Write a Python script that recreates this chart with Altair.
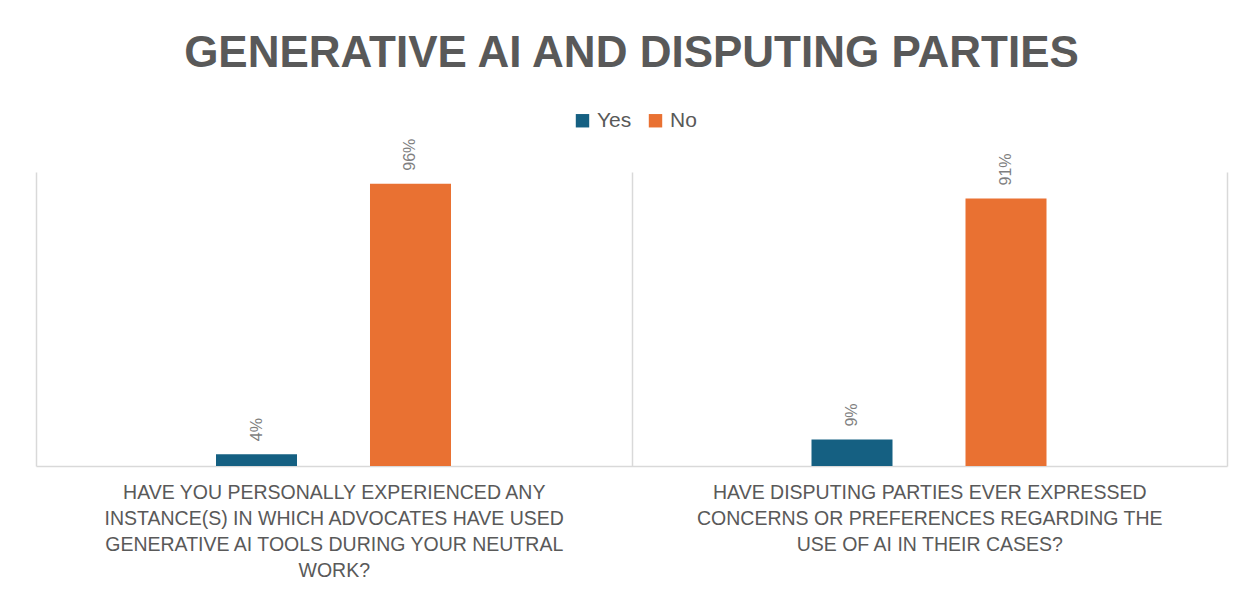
import altair as alt
import pandas as pd

questions = [
    "HAVE YOU PERSONALLY EXPERIENCED ANY\nINSTANCE(S) IN WHICH ADVOCATES HAVE USED\nGENERATIVE AI TOOLS DURING YOUR NEUTRAL\nWORK?",
    "HAVE DISPUTING PARTIES EVER EXPRESSED\nCONCERNS OR PREFERENCES REGARDING THE\nUSE OF AI IN THEIR CASES?",
]
answers = ["Yes", "No"]
yes_values = [0.04, 0.09]
no_values = [0.96, 0.91]
colors = ["#156082", "#E97132"]

rows = []
for q, y, n in zip(questions, yes_values, no_values):
    rows.append({"question": q, "answer": "Yes", "value": y})
    rows.append({"question": q, "answer": "No", "value": n})
df = pd.DataFrame(rows)

FONT = "Liberation Sans"
GRAY = "#595959"
LINE = "#d9d9d9"

base = alt.Chart(df).encode(
    x=alt.X(
        "question:N",
        sort=questions,
        scale=alt.Scale(paddingInner=0, paddingOuter=0),
        axis=alt.Axis(
            title=None,
            labelAngle=0,
            labelExpr="split(datum.label, '\\n')",
            labelFont=FONT,
            labelFontSize=19.5,
            labelColor=GRAY,
            labelLineHeight=26,
            labelPadding=17,
            labelLimit=0,
            labelBaseline="top",
            ticks=False,
            tickBand="extent",
            grid=True,
            gridColor=LINE,
            gridWidth=1.5,
            domainColor=LINE,
            domainWidth=1.5,
        ),
    ),
    xOffset=alt.XOffset(
        "answer:N",
        sort=answers,
        scale=alt.Scale(range=[180, 415], paddingInner=0.474, paddingOuter=0),
    ),
    y=alt.Y("value:Q", scale=alt.Scale(domain=[0, 1]), axis=None),
)

bars = base.mark_bar().encode(
    color=alt.Color(
        "answer:N",
        sort=answers,
        scale=alt.Scale(domain=answers, range=colors),
        legend=alt.Legend(
            title=None,
            orient="none",
            direction="horizontal",
            legendX=536,
            legendY=-62,
            symbolType="square",
            symbolSize=180,
            symbolStrokeWidth=0,
            labelFont=FONT,
            labelFontSize=21,
            labelColor=GRAY,
            columnPadding=13,
            labelOffset=4,
        ),
    )
)

labels = base.mark_text(
    angle=270,
    align="left",
    baseline="middle",
    dx=13,
    font=FONT,
    fontSize=16,
    color="#7f7f7f",
).encode(text=alt.Text("value:Q", format=".0%"))

chart = (
    alt.layer(bars, labels)
    .properties(
        width=1191,
        height=294,
        title=alt.TitleParams(
            "GENERATIVE AI AND DISPUTING PARTIES",
            font=FONT,
            fontSize=44,
            fontWeight="bold",
            color=GRAY,
            anchor="middle",
            offset=34,
        ),
        padding={"left": 28, "top": 164, "right": 18, "bottom": 120},
        autosize=alt.AutoSizeParams(type="none"),
    )
    .configure(background="white")
    .configure_view(strokeWidth=0, stroke="transparent")
)

chart.save("out.html", embed_options={"renderer": "svg", "actions": False})
